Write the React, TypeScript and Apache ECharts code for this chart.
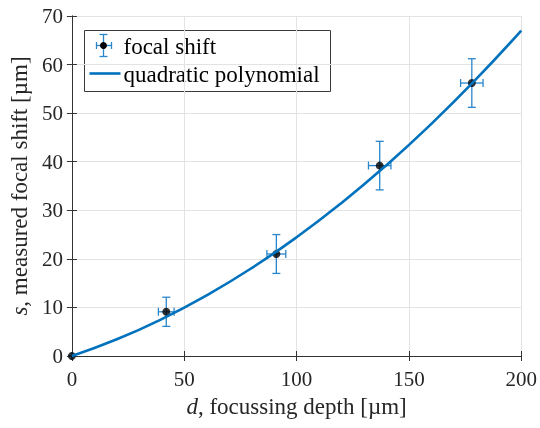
import React, { useEffect, useRef } from "react";
import * as echarts from "echarts";

// Measured focal shift against focussing depth, with uncertainties
const depth = [0, 42, 91, 137, 178];
const shift = [0, 9.1, 21.0, 39.2, 56.2];
const depthErr = [0, 3.5, 4.2, 5.0, 5.0];
const shiftErr = [0, 3.0, 4.0, 5.0, 5.0];

// Quadratic fit curve, sampled along the depth axis
const fitDepth = [0, 20, 40, 60, 80, 100, 120, 140, 160, 180, 200];
const fitShift = [0, 3.44, 7.6, 12.49, 18.1, 24.44, 31.5, 39.29, 47.8, 57.04, 67.0];

const xTicks = [0, 50, 100, 150, 200];
const yTicks = [0, 10, 20, 30, 40, 50, 60, 70];

const FONT = "'Liberation Serif', 'Times New Roman', serif";
const TICK_SIZE = 21;
const LABEL_SIZE = 23;
const AXIS = "#333333";
const GRID = "#e3e3e3";
const FIT = "#0072BD";
const ERR = "#2a86cc";

export default function App() {
  const ref = useRef<HTMLDivElement>(null);

  useEffect(() => {
    const chart = echarts.init(ref.current!, undefined, { renderer: "svg" });
    const cap = 4;

    const errData = depth.map((d, i) => [d, shift[i], depthErr[i], shiftErr[i]]);

    const axisCommon = {
      axisLine: { show: true, lineStyle: { color: AXIS, width: 1 } },
      axisTick: { show: true, inside: true, length: 5, lineStyle: { color: AXIS } },
      splitLine: { show: false },
    };

    const nameStyle = {
      color: "#262626",
      fontSize: LABEL_SIZE,
      fontFamily: FONT,
      rich: {
        i: { fontStyle: "italic", fontSize: LABEL_SIZE, fontFamily: FONT, color: "#262626" },
        n: { fontSize: LABEL_SIZE, fontFamily: FONT, color: "#262626" },
      },
    };

    chart.setOption({
      animation: false,
      textStyle: { fontFamily: FONT },
      grid: { left: 70, right: 15, top: 16, bottom: 72, containLabel: false },
      xAxis: [
        {
          type: "value",
          min: xTicks[0],
          max: xTicks[xTicks.length - 1],
          interval: 50,
          position: "bottom",
          ...axisCommon,
          splitLine: { show: true, lineStyle: { color: GRID, width: 1 } },
          axisLabel: { color: "#262626", fontSize: TICK_SIZE, fontFamily: FONT, margin: 12 },
          name: "{i|d}{n|, focussing depth [µm]}",
          nameLocation: "middle",
          nameGap: 39,
          nameTextStyle: nameStyle,
        },
        {
          type: "value",
          min: xTicks[0],
          max: xTicks[xTicks.length - 1],
          interval: 50,
          position: "top",
          ...axisCommon,
          axisLabel: { show: false },
        },
      ],
      yAxis: [
        {
          type: "value",
          min: yTicks[0],
          max: yTicks[yTicks.length - 1],
          interval: 10,
          position: "left",
          ...axisCommon,
          splitLine: { show: true, lineStyle: { color: GRID, width: 1 } },
          axisLabel: { color: "#262626", fontSize: TICK_SIZE, fontFamily: FONT, margin: 9 },
          name: "{i|s}{n|, measured focal shift [µm]}",
          nameLocation: "middle",
          nameRotate: 90,
          nameGap: 37,
          nameTextStyle: nameStyle,
        },
        {
          type: "value",
          min: yTicks[0],
          max: yTicks[yTicks.length - 1],
          interval: 10,
          position: "right",
          ...axisCommon,
          axisLabel: { show: false },
        },
      ],
      series: [
        {
          type: "custom",
          xAxisIndex: 0,
          yAxisIndex: 0,
          clip: false,
          data: errData,
          z: 3,
          renderItem: (params: any, api: any) => {
            const x = api.value(0);
            const y = api.value(1);
            const ex = api.value(2);
            const ey = api.value(3);
            const c = api.coord([x, y]);
            const top = api.coord([x, y + ey]);
            const bot = api.coord([x, y - ey]);
            const lft = api.coord([x - ex, y]);
            const rgt = api.coord([x + ex, y]);
            const style = { stroke: ERR, lineWidth: 1.3 };
            const ln = (x1: number, y1: number, x2: number, y2: number) => ({
              type: "line",
              shape: { x1, y1, x2, y2 },
              style,
            });
            return {
              type: "group",
              children: [
                ln(c[0], top[1], c[0], bot[1]),
                ln(c[0] - cap, top[1], c[0] + cap, top[1]),
                ln(c[0] - cap, bot[1], c[0] + cap, bot[1]),
                ln(lft[0], c[1], rgt[0], c[1]),
                ln(lft[0], c[1] - cap, lft[0], c[1] + cap),
                ln(rgt[0], c[1] - cap, rgt[0], c[1] + cap),
              ],
            };
          },
        },
        {
          type: "scatter",
          name: "focal shift",
          data: depth.map((d, i) => [d, shift[i]]),
          symbol: "circle",
          symbolSize: 8,
          itemStyle: { color: "#000000" },
          clip: false,
          z: 4,
        },
        {
          type: "line",
          name: "quadratic polynomial",
          data: fitDepth.map((d, i) => [d, fitShift[i]]),
          smooth: true,
          showSymbol: false,
          lineStyle: { color: FIT, width: 2.6 },
          clip: false,
          z: 5,
        },
      ],
      graphic: [
        {
          type: "group",
          left: 84,
          top: 30,
          children: [
            {
              type: "rect",
              shape: { x: 0, y: 0, width: 246, height: 61 },
              style: { fill: "#ffffff", stroke: "#3a3a3a", lineWidth: 1 },
            },
            // error bar glyph
            { type: "line", shape: { x1: 19, y1: 4, x2: 19, y2: 26 }, style: { stroke: ERR, lineWidth: 1.3 } },
            { type: "line", shape: { x1: 15, y1: 4, x2: 23, y2: 4 }, style: { stroke: ERR, lineWidth: 1.3 } },
            { type: "line", shape: { x1: 15, y1: 26, x2: 23, y2: 26 }, style: { stroke: ERR, lineWidth: 1.3 } },
            { type: "line", shape: { x1: 12, y1: 15, x2: 27, y2: 15 }, style: { stroke: ERR, lineWidth: 1.3 } },
            { type: "line", shape: { x1: 12, y1: 11.5, x2: 12, y2: 18.5 }, style: { stroke: ERR, lineWidth: 1.3 } },
            { type: "line", shape: { x1: 27, y1: 11.5, x2: 27, y2: 18.5 }, style: { stroke: ERR, lineWidth: 1.3 } },
            { type: "circle", shape: { cx: 19, cy: 15, r: 3.5 }, style: { fill: "#000000" } },
            {
              type: "text",
              x: 39,
              y: 16,
              style: { text: "focal shift", fontFamily: FONT, fontSize: LABEL_SIZE, fill: "#000000", verticalAlign: "middle" },
            },
            // fit line glyph
            { type: "line", shape: { x1: 5, y1: 43, x2: 36, y2: 43 }, style: { stroke: FIT, lineWidth: 2.6 } },
            {
              type: "text",
              x: 39,
              y: 44,
              style: { text: "quadratic polynomial", fontFamily: FONT, fontSize: LABEL_SIZE, fill: "#000000", verticalAlign: "middle" },
            },
          ],
        },
      ],
    });

    return () => chart.dispose();
  }, []);

  return (
    <div
      ref={ref}
      style={{ position: "fixed", left: 0, top: 0, width: 540, height: 428 }}
    />
  );
}
